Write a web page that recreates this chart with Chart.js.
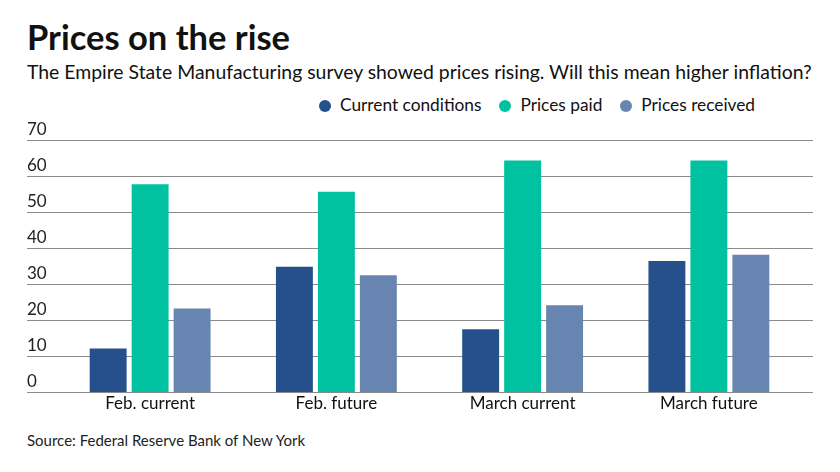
<!DOCTYPE html>
<html>
<head>
<meta charset="utf-8">
<script src="https://cdn.jsdelivr.net/npm/chart.js@4.4.1/dist/chart.umd.min.js"></script>
<style>
  body { margin: 0; background: #fff; font-family: Lato, sans-serif; color: #111; }
  #wrap { position: relative; width: 840px; height: 472px; overflow: hidden; }
  .abs { position: absolute; white-space: nowrap; }
  #title { left: 27px; top: 17px; font-size: 34.5px; font-weight: bold; line-height: 40px; }
  #sub { left: 27px; top: 59px; font-size: 19.4px; line-height: 26px; }
  #legend { left: 319px; top: 94px; font-size: 17.3px; line-height: 22px; }
  #legend span.item { margin-right: 18px; }
  #legend span.dot { display: inline-block; width: 12px; height: 12px; border-radius: 50%; margin-right: 9px; vertical-align: -1px; }
  #source { left: 27px; top: 430px; font-size: 15px; line-height: 20px; color: #222; }
  #box { position: absolute; left: 0; top: 110px; width: 840px; height: 320px; }
</style>
</head>
<body>
<div id="wrap">
  <div id="title" class="abs">Prices on the rise</div>
  <div id="sub" class="abs">The Empire State Manufacturing survey showed prices rising. Will this mean higher inflation?</div>
  <div id="legend" class="abs"></div>
  <div id="box"><canvas id="chart"></canvas></div>
  <div id="source" class="abs">Source: Federal Reserve Bank of New York</div>
</div>
<script>
var categories = ['Feb. current', 'Feb. future', 'March current', 'March future'];
var seriesNames = ['Current conditions', 'Prices paid', 'Prices received'];
var currentConditions = [12.1, 34.8, 17.4, 36.4];
var pricesPaid = [57.7, 55.6, 64.3, 64.3];
var pricesReceived = [23.2, 32.4, 24.1, 38.1];
var yTicks = [0, 10, 20, 30, 40, 50, 60, 70];
var colors = ['#26508c', '#00c2a0', '#6785b0'];

// legend in html
var legendHtml = '';
seriesNames.forEach(function (name, i) {
  legendHtml += '<span class="item"><span class="dot" style="background:' + colors[i] + '"></span>' + name + '</span>';
});
document.getElementById('legend').innerHTML = legendHtml;

// gridlines run wider than the plot area
var wideGrid = {
  id: 'wideGrid',
  beforeDatasetsDraw: function (chart) {
    var ctx = chart.ctx;
    var y = chart.scales.y;
    ctx.save();
    ctx.strokeStyle = '#8a8a8a';
    ctx.lineWidth = 1;
    y.ticks.forEach(function (t, i) {
      var py = Math.round(y.getPixelForTick(i)) + 0.5;
      ctx.beginPath();
      ctx.moveTo(27, py);
      ctx.lineTo(813, py);
      ctx.stroke();
    });
    ctx.restore();
  }
};

var data = [currentConditions, pricesPaid, pricesReceived];

new Chart(document.getElementById('chart'), {
  type: 'bar',
  data: {
    labels: categories,
    datasets: seriesNames.map(function (name, i) {
      return {
        label: name,
        data: data[i],
        backgroundColor: colors[i],
        borderWidth: 0,
        categoryPercentage: 0.676,
        barPercentage: 0.88
      };
    })
  },
  options: {
    responsive: true,
    maintainAspectRatio: false,
    animation: false,
    events: [],
    layout: { padding: { left: 27, right: 38, top: 30, bottom: 0 } },
    plugins: { legend: { display: false }, tooltip: { enabled: false } },
    scales: {
      x: {
        grid: { display: false, drawTicks: false },
        border: { display: false },
        ticks: { color: '#111', font: { family: 'Lato', size: 17 }, padding: 1 },
        afterFit: function (s) { s.height = 38; }
      },
      y: {
        min: 0,
        max: 70,
        afterBuildTicks: function (s) { s.ticks = yTicks.map(function (v) { return { value: v }; }); },
        grid: { display: false, drawTicks: false },
        border: { display: false },
        ticks: { color: '#222', font: { family: 'Lato', size: 17 }, crossAlign: 'far', labelOffset: -10, padding: 0 },
        afterFit: function (s) { s.width = 30; }
      }
    }
  },
  plugins: [wideGrid]
});
</script>
</body>
</html>
